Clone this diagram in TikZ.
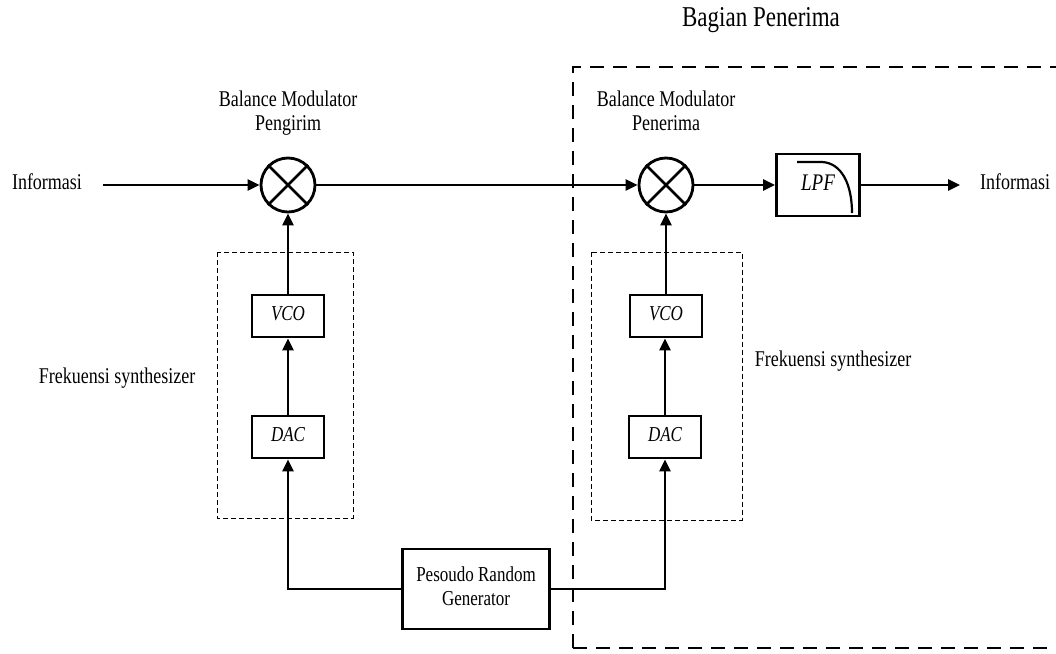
\documentclass[tikz,border=0pt]{standalone}
\usepackage{fontspec}
\setmainfont{Liberation Serif}
\usetikzlibrary{arrows.meta}
\usetikzlibrary{positioning}

% teks sedikit dipanjangkan ke atas, seperti pada gambar asli
\newcommand{\tinggi}[1]{\scalebox{1}[1.25]{\begin{tabular}{@{}c@{}}#1\end{tabular}}}

\tikzset{
    garis/.style={line width=2.8pt},
    panah/.style={garis, -{Triangle[length=12pt,width=11pt]}},
    blok/.style={draw, garis, minimum width=72pt, minimum height=42pt, inner sep=0pt, font=\fontsize{17}{19}\selectfont\itshape},
    mixer/.style={draw, garis, circle, minimum size=54pt, inner sep=0pt},
    teks/.style={font=\fontsize{18}{19}\selectfont, align=center, inner sep=0pt},
    kotaksynth/.style={draw, line width=0.9pt, dash pattern=on 5pt off 3pt},
}

\begin{document}
\begin{tikzpicture}[x=1pt,y=-1pt]
    \useasboundingbox (0,0) rectangle (1056,653);

    % Bagian penerima
    \node[teks, font=\fontsize{23}{26}\selectfont] (judul) at (761,20) {\tinggi{Bagian Penerima}};
    \draw[line width=2.8pt, dash pattern=on 14pt off 9pt] (573,648) -- (573,67) -- (1070,67);
    \draw[line width=2.8pt, dash pattern=on 14pt off 9pt] (573,648) -- (1070,648);

    % Pengirim
    \node[teks] (infoin) at (47,185) {\tinggi{Informasi}};
    \coordinate (awal) at (103,185);
    \node[mixer] (bmk) at (288,185) {};
    \draw[garis] (bmk.45) -- (bmk.225) (bmk.135) -- (bmk.315);
    \node[teks] (lbmk) at (288,114) {\tinggi{Balance Modulator\\Pengirim}};
    \draw[kotaksynth] (217,252) rectangle (353,518);
    \node[blok] (vcok) at (288,316) {\tinggi{VCO}};
    \node[blok] (dack) at (288,437) {\tinggi{DAC}};
    \node[teks] (fsk) at (117,379) {\tinggi{Frekuensi synthesizer}};

    % Penerima
    \node[mixer] (bmt) at (666,185) {};
    \draw[garis] (bmt.45) -- (bmt.225) (bmt.135) -- (bmt.315);
    \node[teks] (lbmt) at (666,114) {\tinggi{Balance Modulator\\Penerima}};
    \draw[kotaksynth] (591,252) rectangle (742,520);
    \node[blok] (vcot) at (666,316) {\tinggi{VCO}};
    \node[blok] (dact) at (665,437) {\tinggi{DAC}};
    \node[teks] (fst) at (833,362) {\tinggi{Frekuensi synthesizer}};
    \node[blok, minimum width=83pt, minimum height=62pt, font=\fontsize{19}{22}\selectfont\itshape] (lpf) at (818,185) {\raisebox{3pt}{\tinggi{LPF}}};
    \draw[line width=2.2pt] (797,162) -- (822,162) .. controls (842,163) and (852,185) .. (852,213);
    \node[teks] (infoout) at (1015,185) {\tinggi{Informasi}};
    \coordinate (akhir) at (960,185);

    % Pseudo random generator
    \node[draw, garis, minimum width=147pt, minimum height=80pt, teks, font=\fontsize{17}{19}\selectfont] (prg) at (476,589) {\tinggi{Pesoudo Random\\Generator}};

    % Jalur sinyal
    \draw[panah] (awal) -- (bmk.west);
    \draw[panah] (bmk.east) -- (bmt.west);
    \draw[panah] (bmt.east) -- (lpf.west);
    \draw[panah] (lpf.east) -- (akhir);
    \draw[panah] (vcok.north) -- (bmk.south);
    \draw[panah] (dack.north) -- (vcok.south);
    \draw[panah] (vcot.north) -- (bmt.south);
    \draw[panah] (dact.north) -- (dact.north |- vcot.south);
    \draw[panah] (prg.west) -| (dack.south);
    \draw[panah] (prg.east) -| (dact.south);
\end{tikzpicture}
\end{document}
